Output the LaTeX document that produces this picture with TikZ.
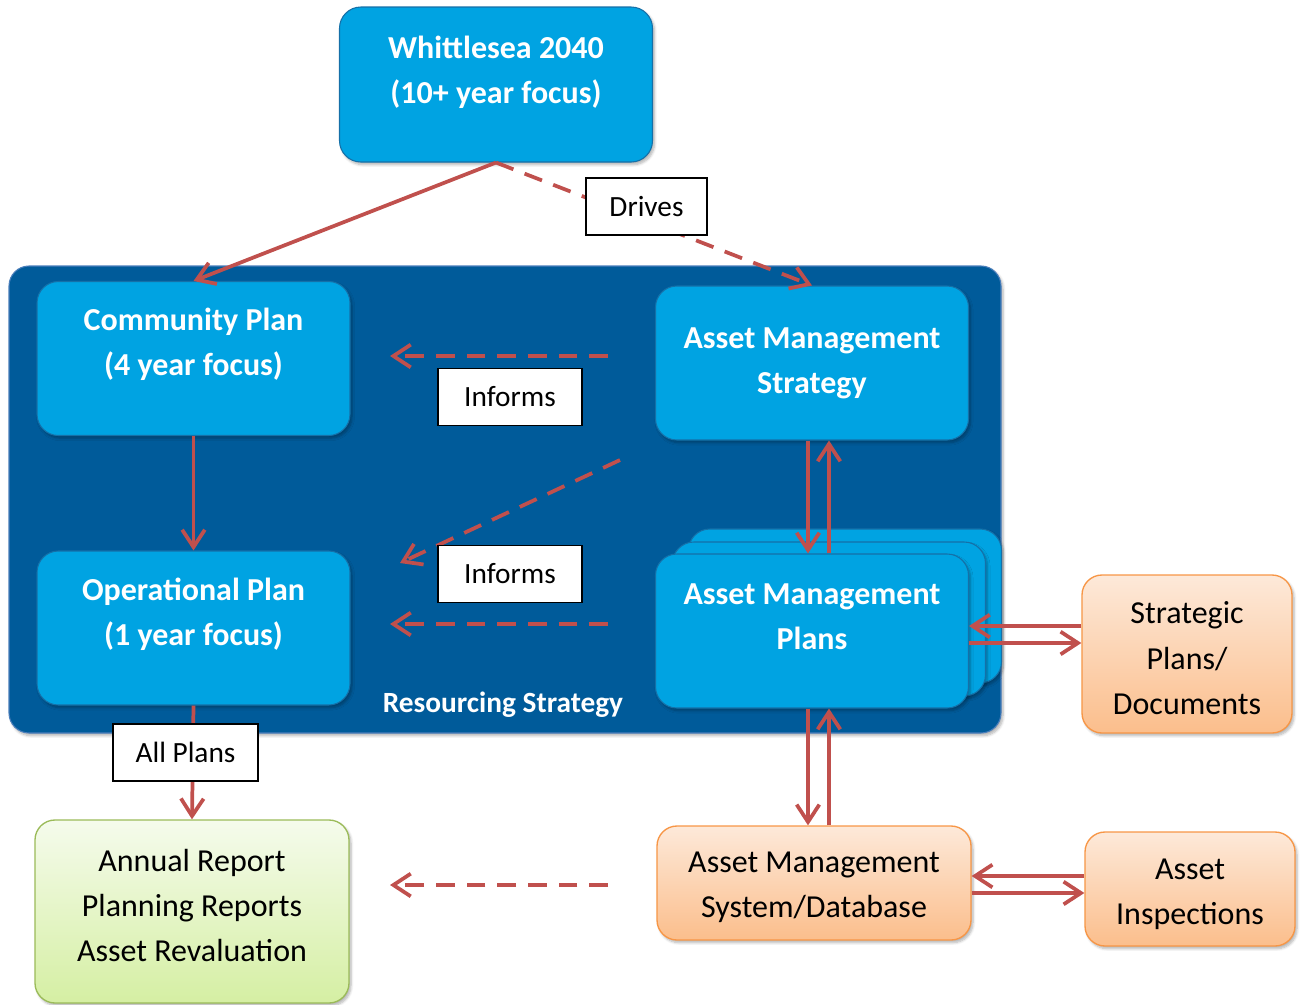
\documentclass[tikz,border=0pt]{standalone}
\usepackage{fontspec}
\setmainfont{Carlito}
\usepackage{tikz}
\usetikzlibrary{arrows.meta, positioning, shadows.blur, calc}
\definecolor{PanelBlue}{HTML}{005B9A}
\definecolor{PanelEdge}{HTML}{4A7EBB}
\definecolor{BoxBlue}{HTML}{00A3E2}
\definecolor{BoxEdge}{HTML}{1570A8}
\definecolor{LinkRed}{HTML}{C0504D}
\definecolor{OrangeEdge}{HTML}{F79646}
\definecolor{OrangeTop}{HTML}{FDE9D9}
\definecolor{OrangeBot}{HTML}{FBBE8C}
\definecolor{GreenEdge}{HTML}{9BBB59}
\definecolor{GreenTop}{HTML}{F5FBEC}
\definecolor{GreenBot}{HTML}{D5EFA3}
\tikzset{
  softshadow/.style={blur shadow={shadow xshift=1.5pt, shadow yshift=-2pt, shadow opacity=30, shadow blur steps=6}},
  panelbox/.style={rectangle, rounded corners=15pt, draw=PanelEdge, line width=0.8pt, fill=PanelBlue, minimum width=744pt, minimum height=350.25pt, softshadow},
  planbox/.style={rectangle, rounded corners=16pt, draw=BoxEdge, line width=0.8pt, fill=BoxBlue, text=white, minimum width=234.75pt, inner sep=0pt, text height=70.5pt, text depth=45pt, align=center, font=\fontsize{24}{33.75}\selectfont\bfseries, softshadow},
  orangebox/.style={rectangle, rounded corners=15pt, draw=OrangeEdge, line width=1pt, top color=OrangeTop, bottom color=OrangeBot, inner sep=0pt, align=center, font=\fontsize{24}{34}\selectfont, softshadow},
  greenbox/.style={rectangle, rounded corners=15pt, draw=GreenEdge, line width=1pt, top color=GreenTop, bottom color=GreenBot, inner sep=0pt, align=center, font=\fontsize{24}{34}\selectfont, softshadow},
  tagbox/.style={rectangle, draw=black, line width=1.2pt, fill=white, minimum width=108pt, minimum height=42.5pt, inner sep=0pt, font=\fontsize{22}{26}\selectfont},
  redarrow/.style={-{Straight Barb[length=13pt, width=17pt]}, line width=2.8pt, LinkRed},
  dashedarrow/.style={redarrow, dash pattern=on 14pt off 9pt}
}
\begin{document}
\begin{tikzpicture}[x=0.75pt, y=-0.75pt]
  \useasboundingbox (0,0) rectangle (1304,1004);

  % Resourcing strategy panel
  \node[panelbox] (panel) at (505,499.5) {};
  \node[text=white, font=\fontsize{22}{26}\selectfont\bfseries] (rstitle) at (503,705) {Resourcing Strategy};

  % Plans
  \node[planbox, text height=72pt, text depth=44.25pt] (w2040) at (496,84.5) {Whittlesea 2040\\(10+ year focus)};
  \node[planbox] (cp) at (193.5,358.5) {Community Plan\\(4 year focus)};
  \node[planbox] (op) at (193.5,628) {Operational Plan\\(1 year focus)};
  \node[planbox, text height=80.25pt, text depth=35.25pt] (ams) at (812,363) {Asset Management\\Strategy};
  \node[planbox] (amp3) at (845,606) {};
  \node[planbox] (amp2) at (829,619) {};
  \node[planbox, text height=71.25pt, text depth=44.25pt] (amp) at (812,631) {Asset Management\\Plans};

  % Outside the panel
  \node[orangebox, minimum width=157.5pt, text height=104.5pt, text depth=14pt] (strat) at (1187,654) {Strategic\\Plans/\\Documents};
  \node[orangebox, minimum width=235.5pt, text height=68.5pt, text depth=17pt] (amsdb) at (814,883) {Asset Management\\System/Database};
  \node[orangebox, minimum width=157.5pt, text height=69.25pt, text depth=16.25pt] (insp) at (1190,889) {Asset\\Inspections};
  \node[greenbox, minimum width=235.5pt, text height=106.25pt, text depth=31pt] (reports) at (192,911.5) {Annual Report\\Planning Reports\\Asset Revaluation};

  % Free ends of the dashed links
  \coordinate (inf1a) at (608,356);
  \coordinate (inf1b) at (390,356);
  \coordinate (inf2a) at (620,460);
  \coordinate (inf2b) at (400,563);
  \coordinate (inf3a) at (608,624);
  \coordinate (inf3b) at (390,624);
  \coordinate (rep1a) at (608,885);
  \coordinate (rep1b) at (390,885);

  % Links
  \draw[redarrow] (w2040.south) -- (cp.north);
  \draw[dashedarrow] (w2040.south) -- (ams.north);
  \draw[dashedarrow] (inf1a) -- (inf1b);
  \draw[dashedarrow] (inf2a) -- (inf2b);
  \draw[dashedarrow] (inf3a) -- (inf3b);
  \draw[dashedarrow] (rep1a) -- (rep1b);
  \draw[redarrow] (cp.south) -- (op.north);
  \draw[redarrow] (op.south) -- (reports.north);

  \draw[redarrow] (ams.south -| 808,0) -- (amp.north -| 808,0);
  \draw[redarrow] (amp.north -| 829,0) -- (ams.south -| 829,0);
  \draw[redarrow] (amp.south -| 808,0) -- (amsdb.north -| 808,0);
  \draw[redarrow] (amsdb.north -| 829,0) -- (amp.south -| 829,0);

  \draw[redarrow] (strat.west |- 0,626) -- (amp.east |- 0,626);
  \draw[redarrow] (amp.east |- 0,643) -- (strat.west |- 0,643);
  \draw[redarrow] (insp.west |- 0,876) -- (amsdb.east |- 0,876);
  \draw[redarrow] (amsdb.east |- 0,893) -- (insp.west |- 0,893);

  % Link labels
  \node[tagbox, minimum width=90.75pt] (drives) at (646.5,206.5) {Drives};
  \node[tagbox] (inf1) at (510,397) {Informs};
  \node[tagbox] (inf2) at (510,574) {Informs};
  \node[tagbox, minimum width=108.75pt] (allplans) at (185.5,752.5) {All Plans};
\end{tikzpicture}
\end{document}
